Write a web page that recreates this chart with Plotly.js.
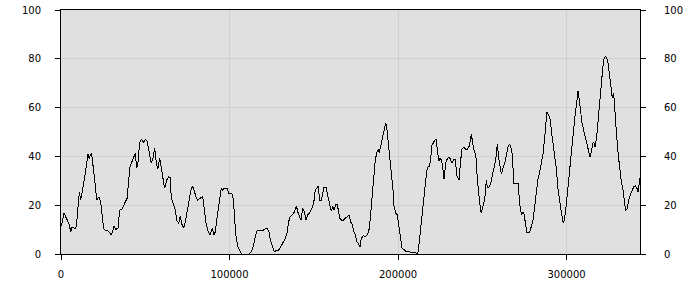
<!DOCTYPE html>
<html>
<head>
<meta charset="utf-8">
<script src="https://cdn.plot.ly/plotly-3.0.1.min.js"></script>
<style>html,body{margin:0;padding:0;background:#fff;}#chart{width:700px;height:300px;}
#chart .scatterlayer path{shape-rendering:crispEdges;}</style>
</head>
<body>
<div id="chart"></div>
<script>
var xValues = [0,600,1800,3100,4600,5800,6500,8500,9100,10100,10900,11700,12500,14100,15400,16000,16800,17400,18200,18800,20000,21200,22000,22600,23600,24500,25300,26300,27900,28900,29900,30400,31500,32500,33800,34800,36200,37800,39200,40200,41000,42100,43300,44100,44900,45700,46700,47700,
49100,50000,51000,52000,52800,53600,54600,55600,56600,57400,58600,59400,60400,61500,62700,63900,64700,65500,66900,67800,68800,69900,70800,71600,72800,73800,75200,76400,77300,78300,79100,80100,81100,82100,83300,84100,84900,86100,87100,88300,89000,89800,90800,91600,92400,93600,94400,95100,96000,96900,98500,
99500,101500,102300,103100,103900,104900,106200,107200,108800,111800,112800,114100,115300,116300,117700,119700,120700,122100,123300,124200,125600,126600,127600,129200,130200,131600,133100,134100,134900,135900,137100,138100,138900,139700,140500,141400,142400,143400,144400,145400,146400,147400,148400,
149400,150200,150900,152100,152700,153500,154500,155300,156100,157300,158000,158900,159700,160400,161300,162000,163000,163800,164600,165400,166400,167500,168700,169900,170900,171900,172900,173700,174700,175500,176400,177500,178200,179400,180600,181800,183000,183800,184600,185400,186500,187400,188300,188900,189700,190700,191700,192700,193500,194300,195300,196300,197200,
197600,198600,199600,200400,201400,202400,203600,204800,207500,210300,211100,211900,212700,213800,215000,216200,217000,217800,218600,219400,220200,221000,221800,222600,223300,224200,224900,225700,226500,227300,228300,229300,230500,231300,232200,233200,234000,234800,236200,237000,238000,239200,240200,241100,242300,243500,244100,244900,245700,246300,247100,247900,
248500,249400,250400,251500,252400,253000,254000,255000,256200,257400,258300,258900,259800,260500,261300,262300,263300,264500,265300,266100,266900,267700,268300,268800,271200,272000,272600,273400,274000,274800,275600,276400,278200,279100,280100,281100,282100,283100,284100,285000,286100,287100,287700,288300,289400,290200,291400,292600,293800,295000,296100,296900,297700,
298300,299300,300300,301300,302300,303300,304300,305200,306100,306800,307600,308400,309200,310400,311600,312800,314000,314700,315600,316300,316900,317900,318700,319900,320700,321500,322300,323000,323900,324600,325400,326600,327200,328000,328600,329600,330600,331600,332500,333500,334300,335100,336100,336900,337900,338900,339900,340800,341800,342400,343200,343600];
var yValues = [11.5,12.8,16.7,15,12.6,9.2,10.8,10.5,11.2,19.4,25.5,22.1,24.9,31.7,37.8,41,38.8,40.6,41,37.8,30.3,22.1,22.8,23.5,20.8,15.3,10.5,9.8,9.4,8.7,7.8,8.7,11.5,10.1,10.5,18,18.4,20.8,22.8,30.3,35.8,37.8,40.2,41.3,35.1,37.8,45.6,47,
45.8,47,46.4,42.6,39.2,37.2,39.2,43.6,37.2,34.8,39.2,35.8,31,26.9,30.3,31.7,31.4,22.8,20.1,18,13.7,12.6,15.6,12.3,10.8,13.2,18.7,23.5,26.9,27.6,25.5,23.5,22.1,22.8,23.2,23.5,18,12.6,9.5,7.8,8.9,10.5,7.8,9.2,13.9,20.8,24.9,26.9,26.2,26.9,26.9,
24.9,24.6,22.1,13.9,7.1,3,1.4,0,-0.5,0,0.9,3,7.1,9.4,9.6,9.6,10.2,10.5,9.6,5.7,3,0.9,1.4,1.6,2.7,4.4,6.4,8.5,12.6,15.3,16.3,16.7,18,19.7,17.3,15.6,13.9,18.7,17.3,13.9,16,16.8,18,
19.4,22.1,26.2,27.3,27.9,21.8,21.8,24.9,27.3,27.3,25.5,22.1,19.4,17.7,19.4,18,20.1,20.4,18,14.6,13.9,13.9,14.6,15.3,16,13.2,11.9,9.2,7.8,5,4.4,3,6.4,7.5,7.1,7.8,10.5,16.7,23.5,31.7,38.5,41.5,42.9,41.5,44,47.4,50.8,53.8,50.8,45.4,38.5,31,24.9,
19.7,16.7,16,11.9,7.1,2.3,1.9,0.9,0.8,0.8,0,0.9,5.7,12.6,19.4,28.3,33.7,35.8,35.8,39.2,44.7,45.6,46.7,47,42.6,38.1,39.2,38.5,35.8,30.6,37.2,39.2,39.6,38.5,37.2,38.9,38.9,32.4,30.3,37.2,43.3,43.7,43,42.9,44.3,49.2,45.4,42.9,41.3,39.2,30.3,24,
20.8,16.7,19.4,22.8,30.3,27.3,27.3,29,33.1,36.5,40.6,45,39.2,35.8,32.8,35.1,37.2,41.3,44,45,44,41.3,36.5,29,29,23.5,18,16,17.3,16.3,12.6,9,9,11.9,13.9,19.4,25.5,31,33.7,37.2,41.3,48.1,53.6,58.1,57,55.2,48.4,42.6,35.8,26.2,20.8,16.7,13.7,
12.6,16.7,23.5,31,37.2,45.4,52.2,57.7,62.4,66.9,63.1,58.3,53.6,50.1,46.7,42.6,39.6,41.9,45.4,45.6,43.7,48.1,53.6,61.8,70,76.1,80.2,81.1,80.2,78.4,73.4,67.2,63.8,65.9,58.3,49.5,41.3,35.1,29.6,26.2,22.1,17.7,18.7,22.1,24.2,26.2,27.6,27.9,26.9,25.5,29,31];
var xTickValues = [0,100000,200000,300000];
var xTickLabels = ['0','100000','200000','300000'];
var yTickValues = [0,20,40,60,80,100];

var font = {family:'DejaVu Sans, Verdana, sans-serif', size:10, color:'#000'};
var traces = [
  {x:xValues, y:yValues, type:'scatter', mode:'lines', line:{color:'#000', width:1}, hoverinfo:'skip', showlegend:false},
  {x:[], y:[], yaxis:'y2', type:'scatter', mode:'lines', showlegend:false, hoverinfo:'skip'}
];
var yCommon = {range:[0,100], tickvals:yTickValues, ticks:'outside', ticklen:5, tickcolor:'#000',
  showline:true, linecolor:'#000', linewidth:1, gridcolor:'#cfcfcf', gridwidth:1, zeroline:false, tickfont:font, fixedrange:true};
var layout = {
  width:700, height:300,
  margin:{l:61, r:60, t:10, b:46, pad:0},
  paper_bgcolor:'#fff', plot_bgcolor:'#e0e0e0',
  showlegend:false,
  xaxis:{range:[0,343600], tickvals:xTickValues, ticktext:xTickLabels, ticks:'outside', ticklen:5, tickcolor:'#000',
    showline:true, linecolor:'#000', linewidth:1, mirror:true, gridcolor:'#cfcfcf', gridwidth:1, zeroline:false, tickfont:font, ticklabelstandoff:6},
  yaxis:Object.assign({}, yCommon, {side:'left', ticklabelstandoff:12}),
  yaxis2:Object.assign({}, yCommon, {side:'right', overlaying:'y', showgrid:false, ticklabelstandoff:16})
};
Plotly.newPlot('chart', traces, layout, {staticPlot:true, displayModeBar:false});
</script>
</body>
</html>
